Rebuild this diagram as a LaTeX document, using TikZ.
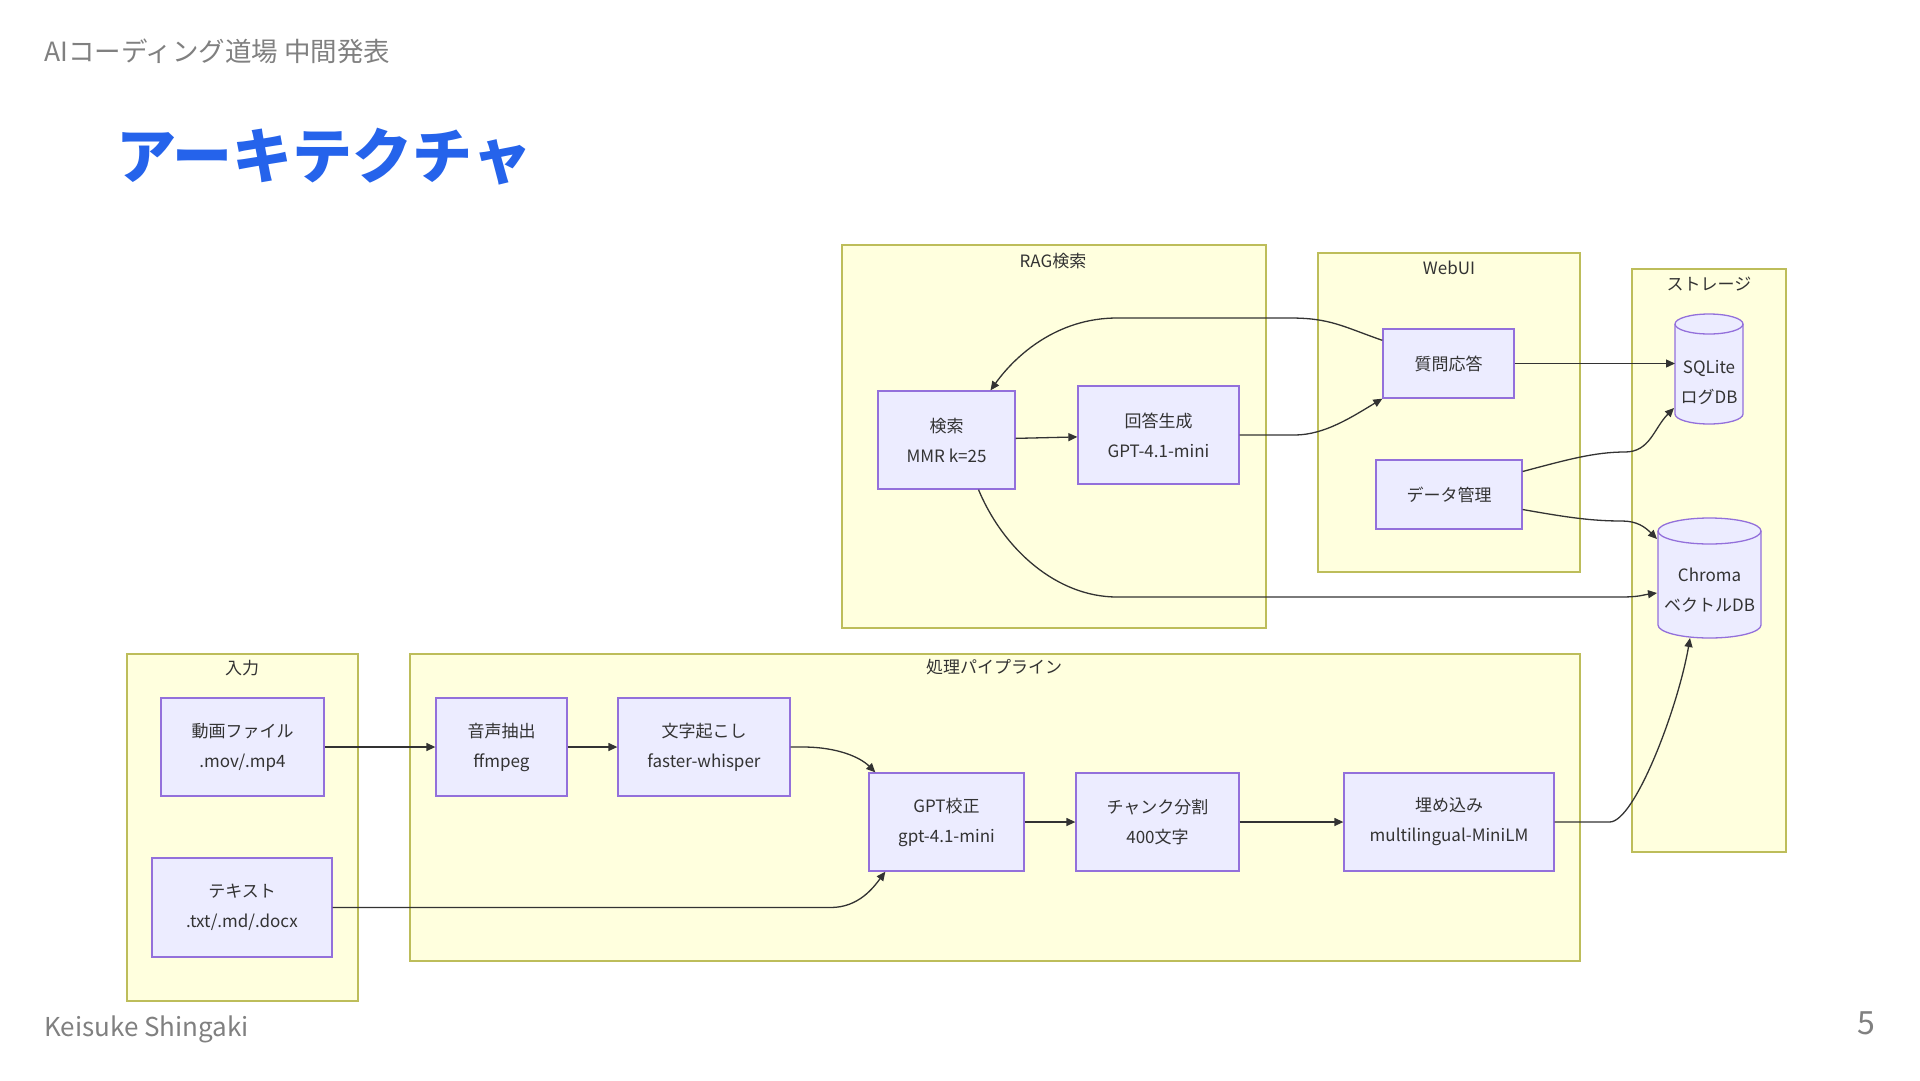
\documentclass[tikz,border=0pt]{standalone}
\usepackage{fontspec}
\setmainfont{Noto Sans CJK JP}
\usetikzlibrary{arrows.meta,calc}
\definecolor{clfill}{HTML}{FFFFDE}
\definecolor{clstroke}{HTML}{BDBD5A}
\definecolor{ndfill}{HTML}{ECECFF}
\definecolor{ndstroke}{HTML}{9370DB}
\definecolor{ink}{HTML}{333333}
\definecolor{hdr}{HTML}{808080}
\definecolor{ttl}{HTML}{2563EB}
\newcommand{\dbcyl}[5]{%
  \filldraw[fill=ndfill, draw=ndstroke, line width=1.3pt]
    (#1-#4,#2+#5) -- (#1-#4,#3-#5)
    arc[start angle=180, end angle=360, x radius=#4pt, y radius=#5pt]
    -- (#1+#4,#2+#5)
    arc[start angle=0, end angle=180, x radius=#4pt, y radius=#5pt] -- cycle;
  \draw[draw=ndstroke, line width=1.3pt] (#1+#4,#2+#5)
    arc[start angle=0, end angle=-180, x radius=#4pt, y radius=#5pt];
}
\tikzset{
  cluster/.style={draw=clstroke, fill=clfill, line width=1.5pt},
  cltitle/.style={text=ink, inner sep=0pt, font=\fontsize{17}{20}\selectfont},
  box/.style={draw=ndstroke, fill=ndfill, line width=1.3pt, text=ink, align=center,
    inner sep=0pt, font=\fontsize{17}{30}\selectfont},
  dbtext/.style={text=ink, align=center, inner sep=0pt, font=\fontsize{17}{30}\selectfont},
  conn/.style={draw=ink, line width=1.3pt, -{Triangle[length=9pt,width=8pt]}}
}
\begin{document}
\begin{tikzpicture}[x=1pt,y=-1pt]
\useasboundingbox (0,0) rectangle (1920,1080);
\fill[white] (0,0) rectangle (1920,1080);

% header / title / footer
\node[anchor=west, text=hdr, inner sep=0pt, font=\fontsize{26.5}{30}\selectfont] (hdr) at (44,51) {AIコーディング道場 中間発表};
\node[anchor=west, text=ttl, inner sep=0pt, font=\fontsize{60}{66}\selectfont\bfseries] (title) at (116,157) {アーキテクチャ};
\node[anchor=west, text=hdr, inner sep=0pt, font=\fontsize{26}{30}\selectfont] (foot) at (44,1029) {Keisuke Shingaki};
\node[text=hdr, inner sep=0pt, font=\fontsize{32}{36}\selectfont] (pg) at (1866,1023) {5};

% clusters
\draw[cluster] (842,245) rectangle (1266,628);
\node[cltitle] (ragt) at (1053,261) {RAG検索};
\draw[cluster] (1318,253) rectangle (1580,572);
\node[cltitle] (webt) at (1449,268) {WebUI};
\draw[cluster] (1632,269) rectangle (1786,852);
\node[cltitle] (stot) at (1709,284) {ストレージ};
\draw[cluster] (127,654) rectangle (358,1001);
\node[cltitle] (inpt) at (242,668) {入力};
\draw[cluster] (410,654) rectangle (1580,961);
\node[cltitle] (pipt) at (994,667) {処理パイプライン};

% nodes
\node[box, minimum width=137pt, minimum height=98pt] (search) at (946.5,440) {検索\\MMR k=25};
\node[box, minimum width=161pt, minimum height=98pt] (answer) at (1158.5,435) {回答生成\\GPT-4.1-mini};
\node[box, minimum width=131pt, minimum height=69pt] (qa) at (1448.5,363.5) {質問応答};
\node[box, minimum width=146pt, minimum height=69pt] (dm) at (1449,494.5) {データ管理};
\node[box, minimum width=163pt, minimum height=98pt] (video) at (242.5,747) {動画ファイル\\.mov/.mp4};
\node[box, minimum width=180pt, minimum height=99pt] (text) at (242,907.5) {テキスト\\.txt/.md/.docx};
\node[box, minimum width=131pt, minimum height=98pt] (audio) at (501.5,747) {音声抽出\\ffmpeg};
\node[box, minimum width=172pt, minimum height=98pt] (trans) at (704,747) {文字起こし\\faster-whisper};
\node[box, minimum width=155pt, minimum height=98pt] (gpt) at (946.5,822) {GPT校正\\gpt-4.1-mini};
\node[box, minimum width=163pt, minimum height=98pt] (chunk) at (1157.5,822) {チャンク分割\\400文字};
\node[box, minimum width=210pt, minimum height=98pt] (embed) at (1449,822) {埋め込み\\multilingual-MiniLM};

% databases
\dbcyl{1709}{314}{424}{34}{10}
\node[dbtext] (sql) at (1709,382) {SQLite\\ログDB};
\dbcyl{1709.5}{518}{638}{51.5}{13}
\node[dbtext] (chroma) at (1709.5,590) {Chroma\\ベクトルDB};

% connector helper points
\coordinate (sqlW) at (1675,363);
\coordinate (sqlSW) at (1674,408);
\coordinate (chrB) at (1690,638);
\coordinate (chrNW) at (1657,539);
\coordinate (chrW) at (1657,593);
\coordinate (qs1) at (1290,318);
\coordinate (qs2) at (1117,318);
\coordinate (d1) at (1625,452);
\coordinate (d2) at (1622,521);
\coordinate (s1) at (1117,597);
\coordinate (s2) at (1620,597);

% connectors
\draw[conn] (video) -- (audio);
\draw[conn] (audio) -- (trans);
\draw[conn] (trans.east) -- ++(12,0) .. controls +(35,0) and +(-15,-15) .. ($(gpt.north west)+(7,0)$);
\draw[conn] (text.east) -- ++(498,0) .. controls +(28,0) and +(-12,16) .. ($(gpt.south west)+(17,0)$);
\draw[conn] (gpt) -- (chunk);
\draw[conn] (chunk) -- (embed);
\draw[conn] (embed.east) -- ++(55,0) .. controls +(25,0) and +(-12,70) .. (chrB);
\draw[conn] (search) -- (answer);
\draw[conn] (answer.east) -- ++(55,0) .. controls +(30,0) and +(-30,18) .. (qa.south west);
\draw[conn] ($(qa.north west)+(0,12)$) .. controls +(-40,-14) and +(40,0) .. (qs1) -- (qs2)
  .. controls +(-60,0) and +(25,-35) .. ($(search.north)+(44,0)$);
\draw[conn] (qa.east) -- (qa.east -| sqlW);
\draw[conn] ($(dm.east)+(0,-23)$) .. controls +(45,-12) and +(-30,0) .. (d1)
  .. controls +(25,0) and +(-20,20) .. (sqlSW);
\draw[conn] ($(dm.east)+(0,15)$) .. controls +(45,8) and +(-30,0) .. (d2)
  .. controls +(15,0) and +(-12,-12) .. (chrNW);
\draw[conn] ($(search.south)+(32,0)$) .. controls +(25,60) and +(-60,0) .. (s1) -- (s2)
  .. controls +(20,0) and +(-15,2) .. (chrW);
\end{tikzpicture}
\end{document}
